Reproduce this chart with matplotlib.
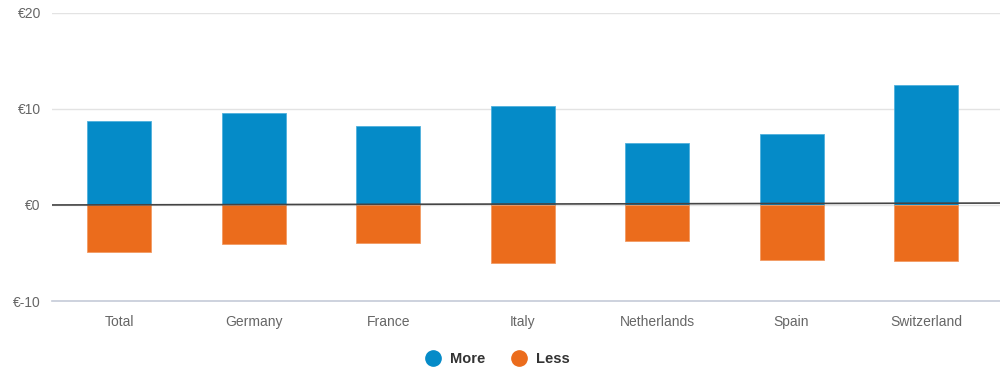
import matplotlib.pyplot as plt
import numpy as np
from matplotlib.lines import Line2D

plt.rcParams['font.family'] = ['Liberation Sans', 'DejaVu Sans']

categories = ['Total', 'Germany', 'France', 'Italy', 'Netherlands', 'Spain', 'Switzerland']
more = [8.7, 9.6, 8.2, 10.3, 6.5, 7.4, 12.5]
less = [-4.9, -4.1, -4.0, -6.0, -3.7, -5.7, -5.8]
zero_line = [0.0, 0.2]  # dark reference line, slightly rising left to right
yticks = [-10, 0, 10, 20]

blue = '#058bc8'
orange = '#eb6c1c'

fig = plt.figure(figsize=(10, 3.68), dpi=100)
ax = fig.add_axes([0.052, 0.182, 0.948, 0.783])

x = np.arange(len(categories))
ax.bar(x, more, width=0.475, color=blue, edgecolor='#4fb0dd', linewidth=0.6, zorder=3)
ax.bar(x, less, width=0.475, color=orange, edgecolor='#f29a63', linewidth=0.6, zorder=3)

x_lo, x_hi = -0.5, len(categories) - 0.45
ax.set_xlim(x_lo, x_hi)
ax.set_ylim(-10, 20)
ax.plot([x_lo, x_hi], zero_line, color='#444444', lw=1.2, zorder=4)

ax.set_yticks(yticks)
ax.set_yticklabels(['€%d' % v for v in yticks])
ax.set_xticks(x)
ax.set_xticklabels(categories)
ax.tick_params(axis='both', length=0, labelsize=10, colors='#666666')
ax.tick_params(axis='x', pad=10)
ax.tick_params(axis='y', pad=8)

for v in yticks[1:]:
    ax.axhline(v, color='#e3e3e3', lw=1, zorder=1)
for s in ['top', 'right', 'left']:
    ax.spines[s].set_visible(False)
ax.spines['bottom'].set_color('#c5cbd8')
ax.spines['bottom'].set_linewidth(1.2)

handles = [Line2D([], [], marker='o', ls='', color=blue, markersize=11),
           Line2D([], [], marker='o', ls='', color=orange, markersize=11)]
leg = fig.legend(handles, ['More', 'Less'], loc='center', bbox_to_anchor=(0.494, 0.024),
                 ncol=2, frameon=False, handletextpad=0.2, columnspacing=1.3,
                 borderpad=0.1, prop={'weight': 'bold', 'size': 10.5})
for t in leg.get_texts():
    t.set_color('#333333')

fig.savefig('out.png', dpi=100)
